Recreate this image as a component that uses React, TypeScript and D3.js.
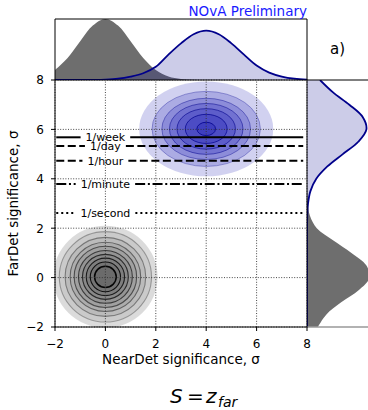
import React from "react";
import * as d3 from "d3";

const W = 368;
const H = 410;
const FONT = "DejaVu Sans";

// ---- data ----
const xTicks = [-2, 0, 2, 4, 6, 8];
const yTicks = [-2, 0, 2, 4, 6, 8];

// sample positions (sigma) of the marginal densities
const sigmaGrid = [-2, -1.5, -1, -0.5, 0, 0.5, 1, 1.5, 2, 2.5, 3, 3.5, 4, 4.5, 5, 5.5, 6, 6.5, 7, 7.5, 8];
// NearDet marginal (top)
const topGrayDensity = [0.062, 0.137, 0.241, 0.339, 0.38, 0.339, 0.241, 0.137, 0.062, 0.022, 0.0064, 0.0015, 0.0003, 0, 0, 0, 0, 0, 0, 0, 0];
const topBlueDensity = [0, 0, 0.0002, 0.0008, 0.0027, 0.0082, 0.0214, 0.042, 0.082, 0.158, 0.228, 0.285, 0.307, 0.285, 0.228, 0.158, 0.09, 0.046, 0.0214, 0.0082, 0.0027];
// FarDet marginal (right)
const rightGrayDensity = [0.066, 0.118, 0.21, 0.319, 0.384, 0.364, 0.273, 0.162, 0.06, 0.018, 0.005, 0.001, 0, 0, 0, 0, 0, 0, 0, 0, 0];
const rightBlueDensity = [0, 0, 0, 0, 0, 0, 0, 0, 0.0003, 0.0016, 0.0064, 0.021, 0.057, 0.125, 0.22, 0.315, 0.365, 0.342, 0.26, 0.16, 0.08];

// 2D contour rings
const grayCenter = [0, 0.03];
const grayRingRadii = [2.07, 1.83, 1.6, 1.4, 1.24, 1.07, 0.91, 0.76, 0.6, 0.43];
const blueCenter = [4, 6.02];
const blueRingRx = [2.66, 2.15, 1.76, 1.46, 1.16, 0.83, 0.37];
const blueRingRy = [1.92, 1.52, 1.24, 1.03, 0.82, 0.59, 0.27];

// false-rate reference lines
const rateLabels = ["1/week", "1/day", "1/hour", "1/minute", "1/second"];
const rateSignificance = [5.68, 5.33, 4.73, 3.79, 2.62];

const rateDash: Record<string, string> = {
  "1/week": "none",
  "1/day": "8,3.5",
  "1/hour": "8,3.5",
  "1/minute": "10,2.7,2,2.7",
  "1/second": "2,3",
};

function measure(text: string, font: string): number {
  const ctx = document.createElement("canvas").getContext("2d");
  if (!ctx) return text.length * 6;
  ctx.font = font;
  return ctx.measureText(text).width;
}

const fmt = (d: number) => (d < 0 ? "\u2212" + Math.abs(d) : String(d));

export default function App() {
  const x = d3.scaleLinear().domain([-2, 8]).range([55, 307]);
  const y = d3.scaleLinear().domain([-2, 8]).range([327, 80]);
  const topY = d3.scaleLinear().domain([0, 0.38]).range([80, 19]);
  const rightX = d3.scaleLinear().domain([0, 0.387]).range([307, 370]);

  const topArea = (vals: number[]) =>
    d3
      .area<number>()
      .x((_, i) => x(sigmaGrid[i]))
      .y0(topY(0))
      .y1((d) => topY(Math.max(0, d)))
      .curve(d3.curveCatmullRom)(vals) || "";
  const topLine = (vals: number[]) =>
    d3
      .line<number>()
      .x((_, i) => x(sigmaGrid[i]))
      .y((d) => topY(d))
      .curve(d3.curveCatmullRom)(vals) || "";
  const rightArea = (vals: number[]) =>
    d3
      .area<number>()
      .y((_, i) => y(sigmaGrid[i]))
      .x0(rightX(0))
      .x1((d) => rightX(Math.max(0, d)))
      .curve(d3.curveCatmullRom)(vals) || "";
  const rightLine = (vals: number[]) =>
    d3
      .line<number>()
      .y((_, i) => y(sigmaGrid[i]))
      .x((d) => rightX(d))
      .curve(d3.curveCatmullRom)(vals) || "";

  const gcx = x(grayCenter[0]);
  const gcy = y(grayCenter[1]);
  const bcx = x(blueCenter[0]);
  const bcy = y(blueCenter[1]);

  const labelFont = `11px "${FONT}"`;
  const lineX0 = x(-1.95);
  const lineX1 = x(7.85);

  return (
    <svg
      width={W}
      height={H}
      viewBox={`0 0 ${W} ${H}`}
      style={{ position: "absolute", left: 0, top: 0, background: "#fff" }}
      fontFamily={FONT}
    >
      <defs>
        <clipPath id="mainClip">
          <rect x={55} y={80} width={252} height={247} />
        </clipPath>
        <clipPath id="topClip">
          <rect x={55} y={19} width={252} height={61} />
        </clipPath>
        <clipPath id="rightClip">
          <rect x={307} y={80} width={61} height={247} />
        </clipPath>
      </defs>

      {/* 2D contours */}
      <g clipPath="url(#mainClip)">
        {grayRingRadii.map((r, i) => (
          <ellipse
            key={"gf" + i}
            cx={gcx}
            cy={gcy}
            rx={x(grayCenter[0] + r) - gcx}
            ry={gcy - y(grayCenter[1] + r)}
            fill="#000"
            fillOpacity={i === 0 ? 0.14 : 0.075}
          />
        ))}
        {grayRingRadii.map((r, i) =>
          i === 0 ? null : (
            <ellipse
              key={"gl" + i}
              cx={gcx}
              cy={gcy}
              rx={x(grayCenter[0] + r) - gcx}
              ry={gcy - y(grayCenter[1] + r)}
              fill="none"
              stroke="#000"
              strokeOpacity={0.3 + (0.65 * (i - 1)) / (grayRingRadii.length - 2)}
              strokeWidth={i === grayRingRadii.length - 1 ? 1.5 : 1.1}
            />
          )
        )}
        {blueRingRx.map((r, i) => (
          <ellipse
            key={"bf" + i}
            cx={bcx}
            cy={bcy}
            rx={x(blueCenter[0] + r) - bcx}
            ry={bcy - y(blueCenter[1] + blueRingRy[i])}
            fill="#0000aa"
            fillOpacity={0.18}
          />
        ))}
        {blueRingRx.map((r, i) =>
          i === 0 ? null : (
            <ellipse
              key={"bl" + i}
              cx={bcx}
              cy={bcy}
              rx={x(blueCenter[0] + r) - bcx}
              ry={bcy - y(blueCenter[1] + blueRingRy[i])}
              fill="none"
              stroke="#00008b"
              strokeOpacity={0.3 + (0.5 * (i - 1)) / (blueRingRx.length - 2)}
              strokeWidth={1}
            />
          )
        )}
      </g>

      {/* grid */}
      <g stroke="#333" strokeWidth={0.9} strokeDasharray="1,1.6">
        {xTicks.map((t) => (
          <line key={"gx" + t} x1={x(t)} x2={x(t)} y1={y(-2)} y2={y(8)} />
        ))}
        {yTicks.map((t) => (
          <line key={"gy" + t} x1={x(-2)} x2={x(8)} y1={y(t)} y2={y(t)} />
        ))}
      </g>

      {/* rate lines with inline labels */}
      {rateLabels.map((lab, i) => {
        const yy = y(rateSignificance[i]);
        const w = measure(lab, labelFont);
        const cx = x(0);
        const g0 = cx - w / 2 - 5;
        const g1 = cx + w / 2 + 5;
        const dash = rateDash[lab];
        return (
          <g key={lab}>
            <line x1={lineX0} x2={g0} y1={yy} y2={yy} stroke="#000" strokeWidth={2} strokeDasharray={dash} />
            <line x1={g1} x2={lineX1} y1={yy} y2={yy} stroke="#000" strokeWidth={2} strokeDasharray={dash} />
            <text x={cx} y={yy} dy="0.36em" textAnchor="middle" fontSize={11} fill="#000">
              {lab}
            </text>
          </g>
        );
      })}

      {/* top marginal */}
      <g clipPath="url(#topClip)">
        <path d={topArea(topGrayDensity)} fill="#6e6e6e" />
        <path d={topArea(topBlueDensity)} fill="#00008b" fillOpacity={0.2} />
        <path d={topLine(topBlueDensity)} fill="none" stroke="#00008b" strokeWidth={1.8} />
      </g>
      <path d="M55,80V19H307V80" fill="none" stroke="#000" strokeWidth={1} />

      {/* right marginal */}
      <g clipPath="url(#rightClip)">
        <path d={rightArea(rightGrayDensity)} fill="#6e6e6e" />
        <path d={rightArea(rightBlueDensity)} fill="#00008b" fillOpacity={0.2} />
        <path d={rightLine(rightBlueDensity)} fill="none" stroke="#00008b" strokeWidth={1.8} />
      </g>
      <line x1={307} x2={W} y1={80} y2={80} stroke="#000" strokeWidth={1} />
      <line x1={307} x2={W} y1={327} y2={327} stroke="#999" strokeWidth={1.5} />

      {/* main spines */}
      <rect x={55} y={80} width={252} height={247} fill="none" stroke="#000" strokeWidth={1} />

      {/* ticks */}
      {yTicks.map((t) => (
        <g key={"yt" + t}>
          <line x1={51} x2={55} y1={y(t)} y2={y(t)} stroke="#000" strokeWidth={1} />
          <text x={44} y={y(t)} dy="0.36em" textAnchor="end" fontSize={12} fill="#000">
            {fmt(t)}
          </text>
        </g>
      ))}
      {xTicks.map((t) => (
        <g key={"xt" + t}>
          <line x1={x(t)} x2={x(t)} y1={327} y2={331} stroke="#000" strokeWidth={1} />
          <text x={x(t)} y={347.5} textAnchor="middle" fontSize={12} fill="#000">
            {fmt(t)}
          </text>
        </g>
      ))}

      {/* axis labels */}
      <text x={(x(-2) + x(8)) / 2} y={364} textAnchor="middle" fontSize={13.5} fill="#000">
        NearDet significance, σ
      </text>
      <text
        transform={`translate(18,${(y(-2) + y(8)) / 2}) rotate(-90)`}
        textAnchor="middle"
        fontSize={13.5}
        fill="#000"
      >
        FarDet significance, σ
      </text>

      {/* annotations */}
      <text x={307} y={15.5} textAnchor="end" fontSize={13.5} fill="#1a1aff">
        NOvA Preliminary
      </text>
      <text x={330} y={54} fontSize={15} fill="#000">
        a)
      </text>

      {/* formula */}
      <text y={402.5} fontSize={20} fill="#000">
        <tspan x={170} fontStyle="italic">S</tspan>
        <tspan x={187}>=</tspan>
        <tspan x={206} fontStyle="italic">z</tspan>
        <tspan x={218} dy={4} fontSize={14} fontStyle="italic">far</tspan>
      </text>
    </svg>
  );
}
